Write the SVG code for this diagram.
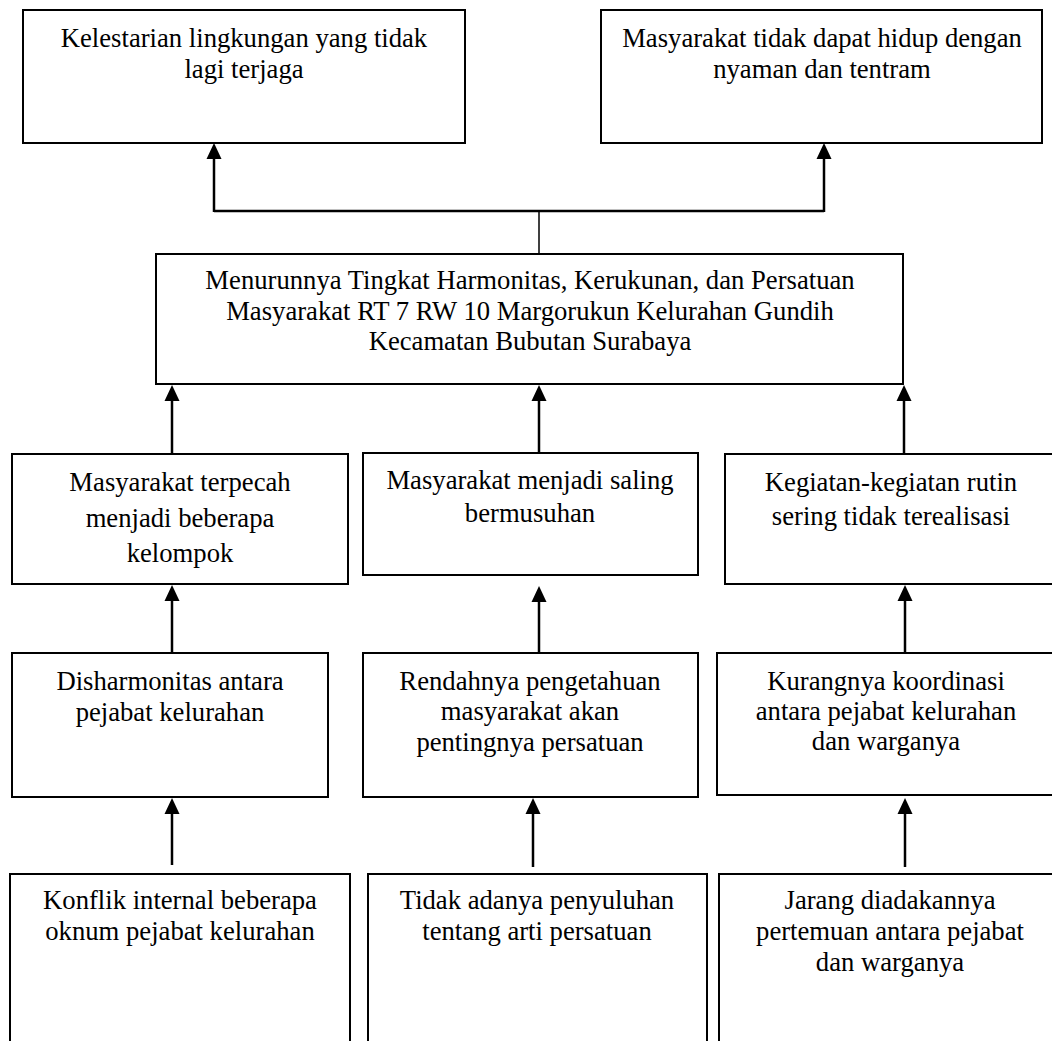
<svg xmlns="http://www.w3.org/2000/svg" width="1052" height="1041" viewBox="0 0 1052 1041">
<style>
.box{fill:#fff;stroke:#000;stroke-width:2}
text{font-family:'Liberation Serif','Times New Roman',serif;font-size:26.67px;fill:#000;text-anchor:middle}
.c{stroke:#000;stroke-width:2.5;fill:none}
.a{stroke:#000;stroke-width:2.5;fill:none;marker-end:url(#ah)}
</style>
<defs>
<marker id="ah" markerUnits="userSpaceOnUse" markerWidth="16" markerHeight="16" viewBox="0 0 16 15" refX="8" refY="7.5" orient="auto">
<path d="M0,0 L16,7.5 L0,15 z" fill="#000"/>
</marker>
</defs>
<rect width="1052" height="1041" fill="#fff"/>
<g id="connectors">
<line class="c" x1="539" y1="254" x2="539" y2="211" style="stroke-width:1.5"/>
<line class="c" x1="214" y1="211" x2="824" y2="211"/>
<line class="a" x1="214" y1="212" x2="214" y2="151"/>
<line class="a" x1="824" y1="212" x2="824" y2="151"/>
<line class="a" x1="172" y1="454" x2="172" y2="393"/>
<line class="a" x1="539" y1="453" x2="539" y2="393"/>
<line class="a" x1="904" y1="454" x2="904" y2="393"/>
<line class="a" x1="172" y1="653" x2="172" y2="593"/>
<line class="a" x1="539" y1="653" x2="539" y2="594"/>
<line class="a" x1="905" y1="653" x2="905" y2="593"/>
<line class="a" x1="172" y1="865" x2="172" y2="806"/>
<line class="a" x1="533" y1="867" x2="533" y2="806"/>
<line class="a" x1="905" y1="867" x2="905" y2="806"/>
</g>
<g id="n1">
<rect class="box" x="23" y="10" width="442" height="133"/>
<text x="244" y="47">Kelestarian lingkungan yang tidak</text>
<text x="244" y="78">lagi terjaga</text>
</g>
<g id="n2">
<rect class="box" x="601" y="10" width="441" height="133"/>
<text x="822" y="47">Masyarakat tidak dapat hidup dengan</text>
<text x="822" y="78">nyaman dan tentram</text>
</g>
<g id="main">
<rect class="box" x="156" y="254" width="747" height="130"/>
<text x="530" y="289">Menurunnya Tingkat Harmonitas, Kerukunan, dan Persatuan</text>
<text x="530" y="320">Masyarakat RT 7 RW 10 Margorukun Kelurahan Gundih</text>
<text x="530" y="350">Kecamatan Bubutan Surabaya</text>
</g>
<g id="r2a">
<rect class="box" x="12" y="454" width="336" height="130"/>
<text x="180" y="491">Masyarakat terpecah</text>
<text x="180" y="527">menjadi beberapa</text>
<text x="180" y="562">kelompok</text>
</g>
<g id="r2b">
<rect class="box" x="363" y="453" width="335" height="122"/>
<text x="530" y="489">Masyarakat menjadi saling</text>
<text x="530" y="522">bermusuhan</text>
</g>
<g id="r2c">
<rect class="box" x="725" y="454" width="332" height="130"/>
<text x="891" y="491">Kegiatan-kegiatan rutin</text>
<text x="891" y="525">sering tidak terealisasi</text>
</g>
<g id="r3a">
<rect class="box" x="12" y="653" width="316" height="144"/>
<text x="170" y="690">Disharmonitas antara</text>
<text x="170" y="721">pejabat kelurahan</text>
</g>
<g id="r3b">
<rect class="box" x="363" y="653" width="335" height="144"/>
<text x="530" y="690">Rendahnya pengetahuan</text>
<text x="530" y="720">masyarakat akan</text>
<text x="530" y="751">pentingnya persatuan</text>
</g>
<g id="r3c">
<rect class="box" x="717" y="653" width="338" height="142"/>
<text x="886" y="690">Kurangnya koordinasi</text>
<text x="886" y="720">antara pejabat kelurahan</text>
<text x="886" y="750">dan warganya</text>
</g>
<g id="r4a">
<rect class="box" x="10" y="874" width="340" height="200"/>
<text x="180" y="909">Konflik internal beberapa</text>
<text x="180" y="940">oknum pejabat kelurahan</text>
</g>
<g id="r4b">
<rect class="box" x="368" y="874" width="339" height="200"/>
<text x="537" y="909">Tidak adanya penyuluhan</text>
<text x="537" y="940">tentang arti persatuan</text>
</g>
<g id="r4c">
<rect class="box" x="719" y="874" width="342" height="200"/>
<text x="890" y="909">Jarang diadakannya</text>
<text x="890" y="940">pertemuan antara pejabat</text>
<text x="890" y="971">dan warganya</text>
</g>
</svg>
